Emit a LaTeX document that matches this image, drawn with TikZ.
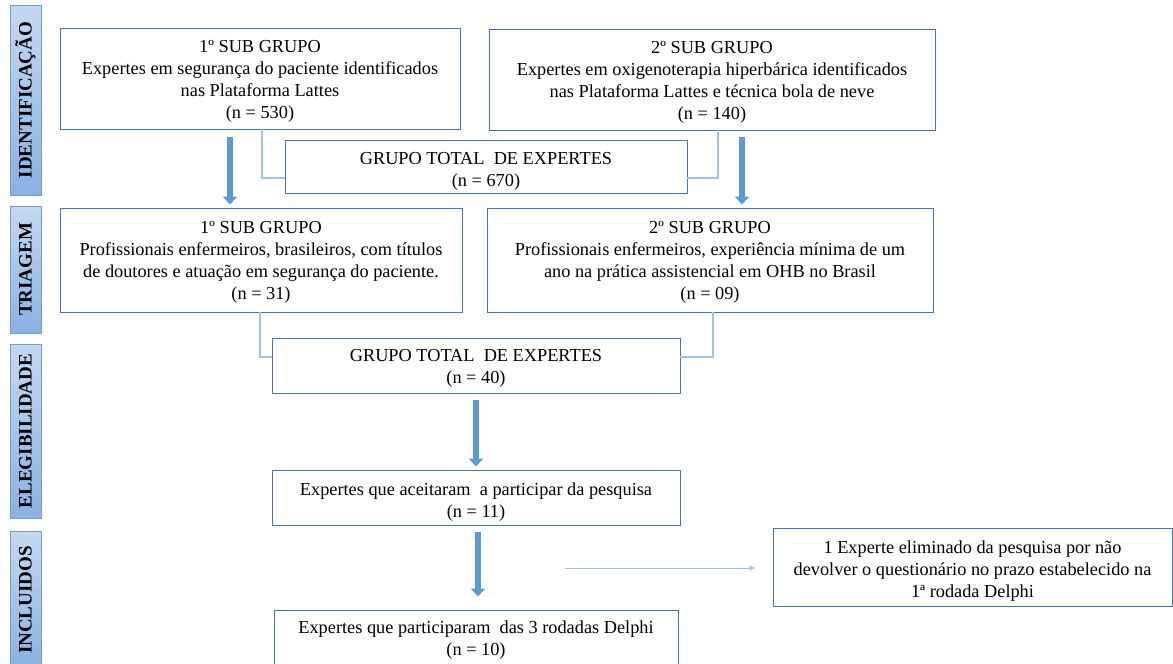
\documentclass[tikz,border=0pt]{standalone}
\usepackage{fontspec}
\setmainfont{Liberation Serif}
\usetikzlibrary{arrows.meta}
\definecolor{boxblue}{HTML}{4472C4}
\definecolor{linkblue}{HTML}{9DC3E6}
\definecolor{arrowblue}{HTML}{5B9BD5}
\definecolor{tabL}{HTML}{C3D8F0}
\definecolor{tabR}{HTML}{8AB1E2}
\definecolor{tabborder}{HTML}{6F9FD8}
\newcommand{\lowstrut}{\rule{0pt}{21pt}}
\newcommand{\midstrut}{\rule{0pt}{17.5pt}}
\tikzset{
  box/.style={draw=boxblue, line width=0.9pt, align=center, inner sep=0pt,
    font=\fontsize{18.3}{22}\selectfont, text=black},
  tab/.style={draw=tabborder, line width=0.9pt, top color=tabL, bottom color=tabR,
    rotate=90, inner sep=0pt, minimum height=31pt,
    font=\bfseries\fontsize{19}{20}\selectfont},
  link/.style={draw=linkblue, line width=1.3pt},
  bigarrow/.style={draw=arrowblue, line width=6pt, -{Triangle[width=14pt,length=8pt]}},
  thinarrow/.style={draw=linkblue, line width=1pt, -{Triangle[width=5pt,length=5pt]}}
}
\begin{document}
\begin{tikzpicture}[x=1pt,y=-1pt]
\useasboundingbox (0,0) rectangle (1173,664);
% side tabs
\node[tab, minimum width=190pt] (tid) at (25.5,100) {IDENTIFICAÇÃO};
\node[tab, minimum width=127pt] (ttr) at (25.5,269.5) {TRIAGEM};
\node[tab, minimum width=174pt] (tel) at (25.5,431) {ELEGIBILIDADE};
\node[tab, minimum width=138pt] (tin) at (25.5,600) {INCLUIDOS};
% boxes
\node[box, minimum width=400pt, minimum height=101pt] (b1) at (260,78.5)
  {\midstrut 1º SUB GRUPO\\Expertes\ em\ segurança\ do\ paciente\ identificados\\nas Plataforma Lattes\\(n = 530)};
\node[box, minimum width=446pt, minimum height=101pt] (b2) at (712,79.5)
  {\midstrut 2º SUB GRUPO\\Expertes\ em\ oxigenoterapia\ hiperbárica\ identificados\\nas Plataforma Lattes e técnica bola de neve\\(n = 140)};
\node[box, minimum width=402pt, minimum height=53pt] (t1) at (486,166.5)
  {\lowstrut GRUPO TOTAL\ \ DE EXPERTES\\(n = 670)};
\node[box, minimum width=402pt, minimum height=104pt] (b3) at (261,260)
  {\midstrut 1º SUB GRUPO\\Profissionais\ enfermeiros,\ brasileiros,\ com\ títulos\\de doutores e atuação em segurança\ do paciente.\\(n = 31)};
\node[box, minimum width=446pt, minimum height=104pt] (b4) at (710,260)
  {\midstrut 2º SUB GRUPO\\Profissionais\ enfermeiros,\ experiência\ mínima de um\\ano na prática assistencial\ em OHB no Brasil\\(n = 09)};
\node[box, minimum width=408pt, minimum height=55pt] (t2) at (476,365.5)
  {\midstrut GRUPO TOTAL\ \ DE EXPERTES\\(n = 40)};
\node[box, minimum width=408pt, minimum height=55pt] (b5) at (476,497.5)
  {\lowstrut Expertes que aceitaram\ \ a participar da pesquisa\\(n = 11)};
\node[box, minimum width=404pt, minimum height=60pt] (b6) at (476,640)
  {Expertes\ que participaram\ \ das 3 rodadas\ Delphi\\(n = 10)};
\node[box, minimum width=399pt, minimum height=78pt] (b7) at (972.5,567)
  {\lowstrut 1 Experte\ eliminado\ da\ pesquisa\ por\ não\\devolver\ o questionário no prazo estabelecido\ na\\1ª rodada Delphi};
% thin connectors
\draw[link] ([xshift=2pt]b1.south) |- ([yshift=-11.5pt]t1.west);
\draw[link] ([xshift=6pt]b2.south) |- ([yshift=-11.5pt]t1.east);
\draw[link] ([xshift=-1pt]b3.south) |- ([yshift=8.5pt]t2.west);
\draw[link] ([xshift=3pt]b4.south) |- ([yshift=8.5pt]t2.east);
% thick arrows
\draw[bigarrow, shorten <=8pt, shorten >=3pt] (b1.south -| 230,0) -- (b3.north -| 230,0);
\draw[bigarrow, shorten <=7pt, shorten >=3pt] (b2.south -| 742,0) -- (b4.north -| 742,0);
\draw[bigarrow, shorten <=7pt, shorten >=3pt] (t2.south -| 476,0) -- (b5.north -| 476,0);
\draw[bigarrow, shorten <=7pt, shorten >=13pt] (b5.south -| 478,0) -- (b6.north -| 478,0);
% exclusion arrow
\coordinate (ex) at (565,568);
\draw[thinarrow, shorten >=18pt] (ex) -- (ex -| b7.west);
\end{tikzpicture}
\end{document}
